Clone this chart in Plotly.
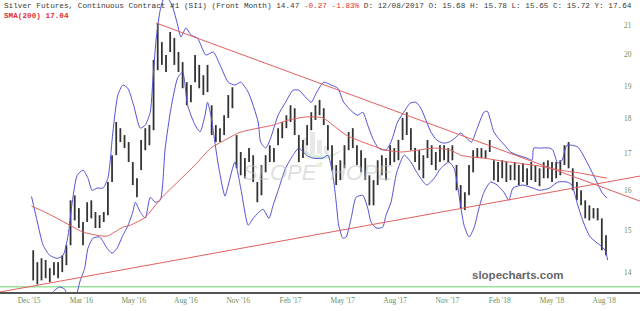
import math
import plotly.graph_objects as go

# ---------------- data ----------------
# weekly price bars (trading-day index of first bar, step 5 trading days)
bar_start = 40
bar_step = 5
bar_high = [14.51, 14.23, 14.32, 14.28, 14.09, 14.23, 14.23, 14.39, 14.63, 15.75,
            15.88, 15.55, 15.20, 15.70, 15.75, 15.45, 15.37, 15.45, 16.23, 16.96,
            17.91, 17.73, 17.53, 17.33, 16.77, 16.33, 17.39, 17.73, 17.82, 19.83,
            21.07, 20.42, 19.99, 20.76, 20.56, 20.09, 19.76, 19.12, 19.03, 19.99,
            19.67, 19.34, 19.67, 18.41, 17.82, 17.73, 18.11, 18.72, 18.96, 17.53,
            17.05, 16.88, 17.16, 16.96, 16.23, 16.69, 16.96, 17.24, 17.16, 17.73,
            17.91, 18.11, 18.41, 18.32, 17.53, 17.39, 17.82, 18.20, 18.41, 18.57,
            18.32, 17.82, 17.24, 16.69, 16.82, 17.24, 17.62, 17.73, 17.24, 17.10,
            16.88, 16.41, 16.28, 16.82, 16.96, 16.88, 17.24, 17.16, 17.39, 18.03,
            18.20, 17.73, 17.16, 17.10, 16.96, 17.39, 17.24, 17.05, 17.24, 17.24,
            17.16, 17.24, 16.69, 16.15, 15.96, 16.69, 17.10, 17.16, 17.16, 17.10,
            17.39, 16.82, 16.77, 16.82, 16.77, 16.69, 16.77, 16.69, 16.74, 16.60,
            16.77, 16.69, 16.60, 16.77, 16.82, 16.77, 16.77, 16.82, 17.24, 17.33,
            16.60, 16.23, 16.01, 15.75, 15.62, 15.55, 15.55, 15.29, 14.87]
bar_low = [13.81, 13.72, 13.81, 13.86, 13.77, 13.93, 13.86, 14.00, 14.16, 14.63,
           15.24, 15.05, 14.63, 15.20, 15.29, 15.05, 15.05, 15.20, 15.37, 16.23,
           16.96, 17.33, 17.16, 16.77, 16.15, 15.83, 16.55, 17.10, 17.24, 17.67,
           19.50, 19.67, 19.44, 20.09, 19.67, 19.44, 18.93, 18.41, 18.50, 19.12,
           18.93, 18.72, 18.81, 17.53, 17.33, 17.33, 17.53, 18.03, 18.32, 16.60,
           16.41, 16.33, 16.77, 16.23, 15.70, 15.88, 16.49, 16.77, 16.77, 17.24,
           17.44, 17.73, 17.91, 17.53, 16.77, 16.88, 17.24, 17.67, 17.97, 18.11,
           17.82, 17.10, 16.55, 16.15, 16.28, 16.60, 17.10, 17.16, 16.69, 16.49,
           16.28, 15.62, 15.62, 16.15, 16.41, 16.28, 16.69, 16.77, 16.82, 17.39,
           17.53, 17.10, 16.77, 16.55, 16.33, 16.88, 16.69, 16.55, 16.77, 16.82,
           16.77, 16.82, 16.01, 15.55, 15.50, 15.88, 16.49, 16.88, 16.88, 16.88,
           17.05, 16.28, 16.23, 16.33, 16.23, 16.28, 16.28, 16.15, 16.23, 16.15,
           16.28, 16.23, 16.12, 16.33, 16.33, 16.23, 16.33, 16.41, 16.69, 16.60,
           16.01, 15.75, 15.62, 15.29, 15.24, 15.29, 15.24, 14.51, 14.39]

# Bollinger bands
upper_idx = [38, 45, 52, 60, 69, 76, 82, 87, 93, 100, 106, 111, 117, 124, 130, 136, 142, 148,
             154, 161, 169, 175, 181, 184, 188, 193, 199, 207, 214, 218, 224, 230, 238, 248,
             257, 265, 275, 283, 290, 299, 311, 314, 320, 326, 335, 344, 353, 360, 369, 375,
             381, 390, 399, 407, 414, 425, 431, 437, 443, 449, 456, 465, 472, 479, 488, 494,
             501, 507, 514, 519, 526, 534, 541, 548, 555, 562, 568, 574, 583, 587, 595, 602,
             608, 615, 624, 635, 641, 643, 650, 662, 666, 672, 677, 683, 696, 707, 719, 725, 731]
upper_val = [15.85, 15.20, 14.63, 14.39, 14.32, 14.39, 14.87, 15.70, 16.41, 16.55, 16.33, 16.01,
             16.07, 16.07, 16.33, 17.62, 18.72, 19.03, 18.93, 18.41, 17.73, 17.82, 18.20, 19.12,
             20.49, 21.52, 22.05, 21.71, 21.00, 20.59, 20.90, 20.66, 20.55, 19.99, 20.09, 19.67,
             19.12, 19.03, 19.12, 18.81, 17.91, 17.33, 17.16, 17.44, 18.11, 18.50, 18.87, 18.87,
             18.63, 18.50, 18.78, 19.12, 19.03, 18.93, 18.50, 18.20, 18.11, 18.20, 17.82, 17.44,
             17.16, 17.10, 17.39, 17.91, 18.26, 18.47, 18.50, 18.32, 17.91, 17.62, 17.39, 17.30,
             17.33, 17.44, 17.59, 17.44, 17.33, 17.67, 18.20, 18.23, 17.62, 17.39, 17.24, 17.05,
             16.96, 16.88, 16.82, 17.16, 17.16, 17.16, 17.10, 16.74, 16.82, 17.24, 17.19, 16.77,
             16.23, 15.96, 15.81]
lower_idx = [54, 66, 72, 78, 84, 93, 96, 102, 106, 112, 120, 129, 135, 141, 148, 154, 160, 163,
             169, 175, 181, 187, 193, 199, 206, 214, 220, 226, 235, 241, 247, 250, 254, 263,
             271, 275, 283, 290, 299, 305, 311, 317, 324, 329, 336, 344, 353, 360, 369, 377,
             389, 395, 401, 405, 408, 413, 417, 423, 429, 437, 443, 447, 453, 461, 465, 471,
             478, 487, 495, 502, 514, 523, 531, 541, 547, 553, 559, 565, 571, 577, 583, 591,
             599, 607, 613, 618, 630, 642, 650, 662, 672, 683, 689, 695, 702, 711, 723, 729, 732]
lower_val = [13.32, 13.59, 13.66, 13.61, 13.34, 13.55, 13.77, 14.09, 14.56, 14.80, 14.83, 14.56,
             14.44, 14.56, 14.87, 15.10, 15.45, 15.70, 15.45, 15.30, 15.83, 15.70, 15.75, 17.16,
             18.32, 19.25, 19.44, 18.41, 17.82, 17.62, 18.11, 18.50, 18.11, 16.69, 15.86, 16.15,
             16.77, 16.07, 15.12, 15.29, 15.43, 15.52, 15.29, 15.62, 16.07, 16.60, 16.96, 17.16,
             16.96, 16.88, 16.88, 16.96, 16.41, 15.70, 15.12, 14.80, 14.83, 15.29, 15.83, 15.88,
             15.55, 15.20, 15.05, 15.07, 15.37, 15.70, 16.49, 16.96, 16.77, 16.49, 16.15, 16.33,
             16.60, 16.77, 16.60, 15.88, 15.12, 14.83, 15.05, 15.55, 15.96, 16.23, 16.15, 15.96,
             15.75, 16.07, 16.15, 16.07, 16.01, 16.07, 16.23, 16.23, 16.15, 15.70, 15.24, 14.83,
             14.63, 14.51, 14.28]

# 200-day simple moving average
sma_idx = [38, 52, 69, 84, 100, 117, 129, 138, 148, 157, 175, 194, 214, 235, 254, 275, 287, 299,
           311, 329, 348, 369, 389, 401, 417, 437, 453, 465, 483, 502, 523, 543, 555, 567, 583,
           599, 614, 650, 674, 699, 731]
sma_val = [15.60, 15.47, 15.29, 15.12, 14.95, 14.87, 14.85, 14.95, 15.07, 15.12, 15.32, 15.80,
           16.23, 16.69, 17.16, 17.44, 17.59, 17.67, 17.73, 17.82, 17.97, 18.06, 18.03, 17.82,
           17.53, 17.33, 17.19, 17.10, 17.05, 17.10, 17.16, 17.10, 16.96, 16.91, 16.88, 16.82,
           16.77, 16.66, 16.55, 16.47, 16.33]

# user-drawn trendlines (index, price endpoints)
down_idx = [188, 771]
down_val = [21.07, 15.73]
up_idx = [0, 771]
up_val = [13.55, 16.39]
support_level = 13.67

# axes
x_ticks_text = ["Dec '15", "Mar '16", "May '16", "Aug '16", "Nov '16", "Feb '17",
                "May '17", "Aug '17", "Nov '17", "Feb '18", "May '18", "Aug '18"]
first_tick = 35
tick_step = 63
y_ticks = [14, 15, 16, 17, 18, 19, 20, 21]
x_range = [0, 771]
y_range = [13.55, 21.88]

# ---------------- figure ----------------
BAR = "#333333"
BLUE = "#5252d6"
RED = "#e06060"
TICKC = "#6a8f5a"
W, H_PLOT = 640.0, 292.0


def px(x):
    return x / W


def py(y):
    return 1 - y / H_PLOT


fig = go.Figure()

bx, by = [], []
for i, (h, l) in enumerate(zip(bar_high, bar_low)):
    xi = bar_start + bar_step * i
    bx += [xi, xi, None]
    by += [h, l, None]
fig.add_trace(go.Scatter(x=bx, y=by, mode="lines", line=dict(color=BAR, width=1.8),
                         hoverinfo="skip", showlegend=False))

fig.add_trace(go.Scatter(x=x_range, y=[support_level] * 2, mode="lines",
                         line=dict(color="#9be39b", width=1.5), showlegend=False))
fig.add_trace(go.Scatter(x=upper_idx, y=upper_val, mode="lines",
                         line=dict(color=BLUE, width=1, shape="spline", smoothing=0.6),
                         showlegend=False))
fig.add_trace(go.Scatter(x=lower_idx, y=lower_val, mode="lines",
                         line=dict(color=BLUE, width=1, shape="spline", smoothing=0.6),
                         showlegend=False))
fig.add_trace(go.Scatter(x=sma_idx, y=sma_val, mode="lines",
                         line=dict(color=RED, width=1, shape="spline", smoothing=0.6),
                         showlegend=False))
fig.add_trace(go.Scatter(x=down_idx, y=down_val, mode="lines",
                         line=dict(color=RED, width=1), showlegend=False))
fig.add_trace(go.Scatter(x=up_idx, y=up_val, mode="lines",
                         line=dict(color=RED, width=1), showlegend=False))

# faint watermark logo (bars + swoosh), drawn below the data
shapes = []
for (x0, x1, y0) in [(303, 308, 138), (310, 315, 132), (317, 322, 140), (324, 329, 146)]:
    shapes.append(dict(type="rect", xref="paper", yref="paper", layer="below",
                       x0=px(x0), x1=px(x1), y0=py(154), y1=py(y0),
                       fillcolor="rgba(190,190,190,0.35)", line=dict(width=0)))
swoosh = (f"M {px(298)},{py(146)} Q {px(318)},{py(172)} {px(345)},{py(148)} "
          f"Q {px(320)},{py(164)} {px(298)},{py(146)} Z")
shapes.append(dict(type="path", xref="paper", yref="paper", layer="below", path=swoosh,
                   fillcolor="rgba(150,210,150,0.35)", line=dict(width=0)))

annotations = []
# header
hdr = ("Silver Futures, Continuous Contract #1 (SI1) (Front Month) 14.47 "
       "<span style='color:#e03030'>-0.27 -1.83%</span> D: 12/08/2017 O: 15.68 "
       "H: 15.78 L: 15.65 C: 15.72 Y: 17.64")
annotations.append(dict(text=hdr, xref="paper", yref="paper", x=0.003, y=1.0,
                        xanchor="left", yanchor="top", showarrow=False,
                        font=dict(family="Liberation Mono", size=7.7, color="#3a3a3a")))
annotations.append(dict(text="<b>SMA(200) 17.04</b>", xref="paper", yref="paper",
                        x=0.003, y=py(10), xanchor="left", yanchor="top",
                        showarrow=False,
                        font=dict(family="Liberation Mono", size=7.7, color="#e03030")))
# right price labels
for v in y_ticks:
    annotations.append(dict(text=str(v), xref="paper", yref="y", x=px(628),
                            y=math.log10(v), xanchor="center", yanchor="middle",
                            showarrow=False,
                            font=dict(family="Liberation Serif", size=7.5, color=TICKC)))
# watermark text
annotations.append(dict(text="<i>SLOPE</i>", xref="paper", yref="paper", x=px(280),
                        y=py(172), showarrow=False,
                        font=dict(family="Liberation Sans Narrow, Liberation Sans", size=22,
                                  color="rgba(190,190,190,0.5)")))
annotations.append(dict(text="of", xref="paper", yref="paper", x=px(319),
                        y=py(164), showarrow=False,
                        font=dict(family="Liberation Sans", size=7,
                                  color="rgba(140,200,140,0.6)")))
annotations.append(dict(text="<i>HOPE</i>", xref="paper", yref="paper", x=px(361),
                        y=py(172), showarrow=False,
                        font=dict(family="Liberation Sans Narrow, Liberation Sans", size=22,
                                  color="rgba(190,190,190,0.5)")))
annotations.append(dict(text="<b>slopecharts.com</b>", xref="paper", yref="paper",
                        x=px(565), y=py(283), showarrow=False,
                        font=dict(family="Liberation Sans", size=11.5, color="#666666")))

fig.update_layout(
    width=640, height=311,
    margin=dict(l=0, r=0, t=0, b=19),
    paper_bgcolor="white", plot_bgcolor="white",
    showlegend=False,
    annotations=annotations,
    shapes=shapes,
    xaxis=dict(range=x_range, showgrid=False, zeroline=False,
               showline=True, linecolor="#555555", linewidth=2,
               tickvals=[first_tick + tick_step * i for i in range(len(x_ticks_text))],
               ticktext=x_ticks_text, ticks="",
               tickfont=dict(family="Liberation Serif", size=7.5, color=TICKC)),
    yaxis=dict(type="log", range=[math.log10(y_range[0]), math.log10(y_range[1])],
               showgrid=False, zeroline=False, showticklabels=False, showline=False),
)

fig.write_html("out.html")
